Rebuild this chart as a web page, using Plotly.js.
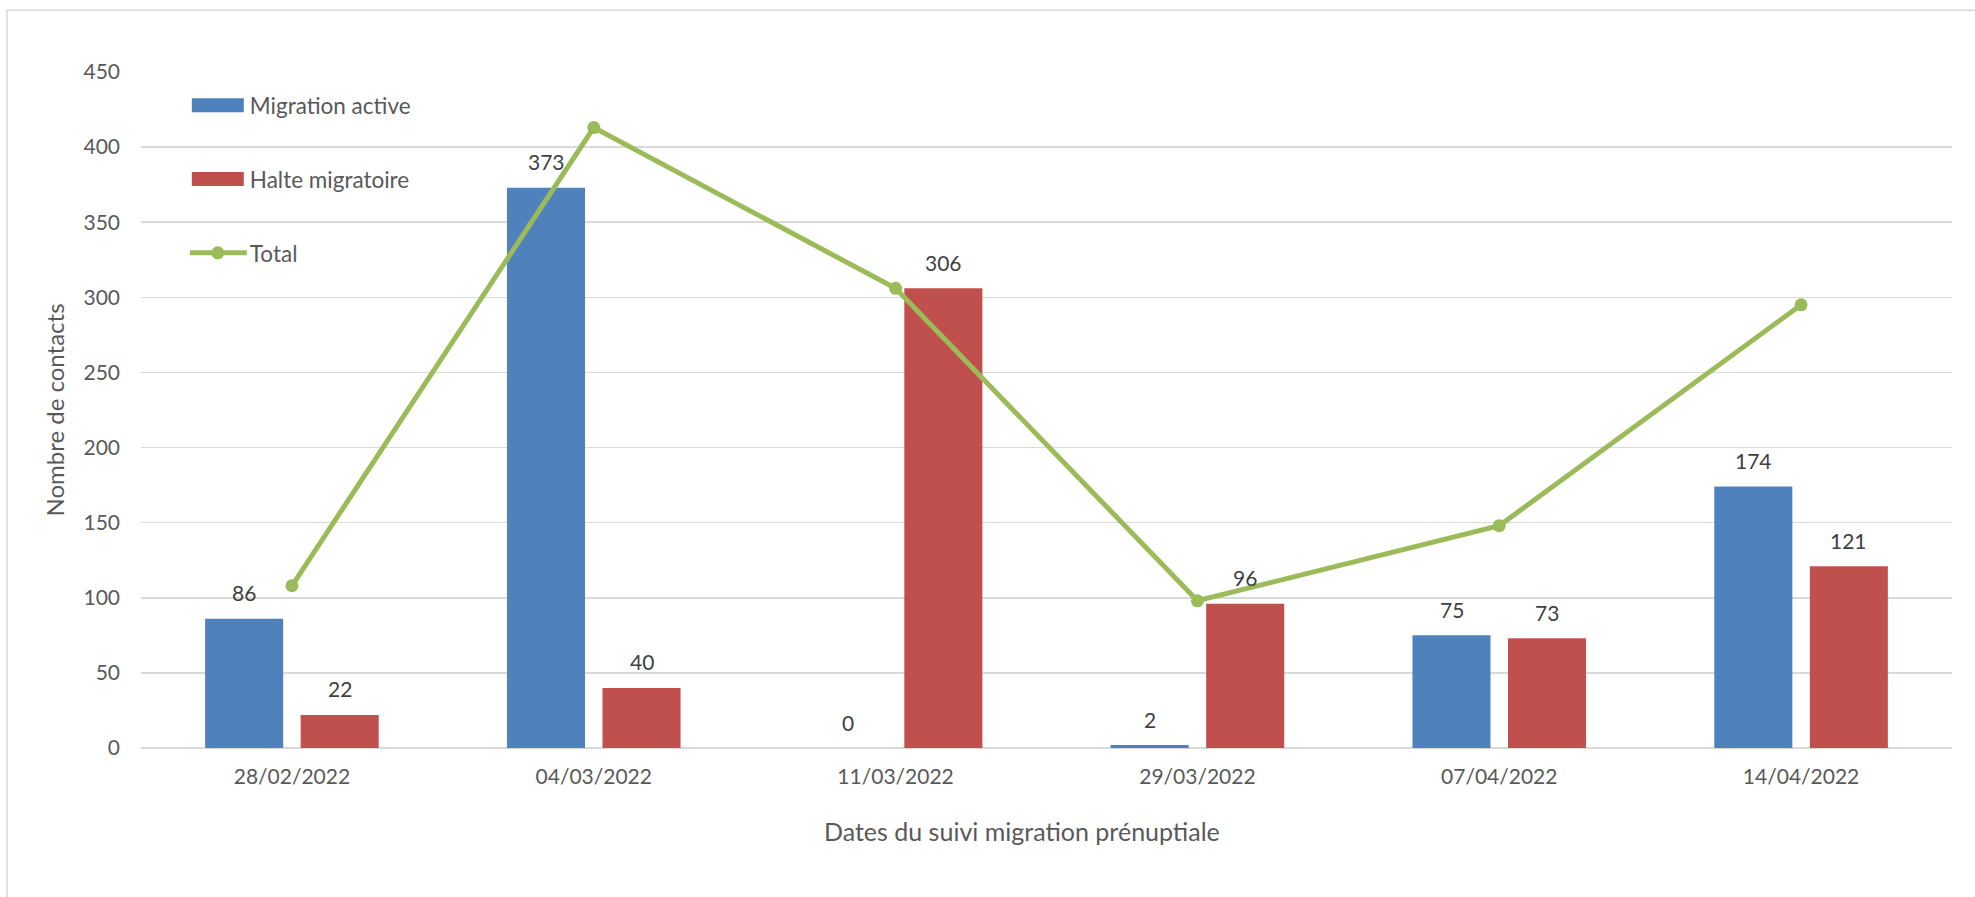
<!DOCTYPE html>
<html>
<head>
<meta charset="utf-8">
<script src="https://cdn.plot.ly/plotly-3.0.1.min.js"></script>
<style>
  html, body { margin: 0; padding: 0; background: #ffffff; }
  #chart { width: 1975px; height: 897px; }
</style>
</head>
<body>
<div id="chart"></div>
<script>
// Dates of the spring (prenuptial) migration counts
const dates = ['28/02/2022', '04/03/2022', '11/03/2022', '29/03/2022', '07/04/2022', '14/04/2022'];
// Contacts per survey date
const migrationActive = [86, 373, 0, 2, 75, 174];
const halteMigratoire = [22, 40, 306, 96, 73, 121];
const total = [108, 413, 306, 98, 148, 295];
// Value axis ticks
const yTickValues = [0, 50, 100, 150, 200, 250, 300, 350, 400, 450];

const FONT = 'Lato, "Open Sans", sans-serif';
const BLUE = '#4F81BD';
const RED = '#C0504D';
const GREEN = '#9BBB59';
const GRID = '#D9D9D9';
const TEXT = '#595959';

const traces = [
  {
    type: 'bar', name: 'Migration active', x: dates, y: migrationActive,
    marker: { color: BLUE }, legendgroup: 'a'
  },
  {
    type: 'bar', name: 'Halte migratoire', x: dates, y: halteMigratoire,
    marker: { color: RED }, legendgroup: 'b'
  },
  {
    type: 'scatter', mode: 'lines+markers', name: 'Total', x: dates, y: total,
    line: { color: GREEN, width: 5 },
    marker: { color: GREEN, size: 13 },
    legendgroup: 'c', cliponaxis: false
  }
];

// Value labels above each bar
const BAR_OFFSET = 47.75;
const labelFont = { family: FONT, size: 21, color: '#404040' };
const annotations = [];
dates.forEach((d, i) => {
  annotations.push({ x: d, y: migrationActive[i], xref: 'x', yref: 'y', text: String(migrationActive[i]),
    showarrow: false, xshift: -BAR_OFFSET, yshift: 26, font: labelFont });
  annotations.push({ x: d, y: halteMigratoire[i], xref: 'x', yref: 'y', text: String(halteMigratoire[i]),
    showarrow: false, xshift: BAR_OFFSET, yshift: 26, font: labelFont });
});
// Category axis title
annotations.push({
  x: 0.4865, y: 0, xref: 'paper', yref: 'paper', xanchor: 'center', yanchor: 'middle', yshift: -82.5,
  text: 'Dates du suivi migration prénuptiale', showarrow: false,
  font: { family: FONT, size: 25, color: TEXT }
});

const layout = {
  width: 1975, height: 897,
  margin: { l: 141, r: 23, t: 72, b: 148.5 },
  paper_bgcolor: '#ffffff', plot_bgcolor: '#ffffff',
  font: { family: FONT, size: 21, color: TEXT },
  barmode: 'group', bargap: 0.367, bargroupgap: 0.183,
  showlegend: true,
  legend: {
    x: 0.038, y: 0.982, xanchor: 'left', yanchor: 'top',
    bgcolor: 'rgba(0,0,0,0)', borderwidth: 0,
    traceorder: 'grouped', tracegroupgap: 41.5,
    font: { family: FONT, size: 22.5, color: TEXT }
  },
  xaxis: {
    type: 'category', tickvals: dates, ticktext: dates,
    showgrid: false, zeroline: false, showline: false, ticks: '',
    ticklabelstandoff: 14, automargin: false,
    tickfont: { family: FONT, size: 21, color: TEXT }
  },
  yaxis: {
    range: [0, 450], tickvals: yTickValues, ticks: '',
    showgrid: true, gridcolor: GRID, gridwidth: 1.5,
    zeroline: true, zerolinecolor: GRID, zerolinewidth: 1.5,
    showline: false, ticklabelstandoff: 20, automargin: false,
    tickfont: { family: FONT, size: 21, color: TEXT },
    title: { text: 'Nombre de contacts', standoff: 12, font: { family: FONT, size: 24, color: TEXT } }
  },
  annotations: annotations,
  shapes: [
    // Chart area frame
    { type: 'rect', xref: 'paper', yref: 'paper', x0: -0.074, x1: 1.2, y0: -0.4, y1: 1.0912,
      line: { color: GRID, width: 1.5 }, fillcolor: 'rgba(0,0,0,0)', layer: 'below' }
  ]
};

// Transform of an element's coordinate frame relative to an ancestor group
function frameOf(el, ancestor) {
  return ancestor.getCTM().inverse().multiply(el.getCTM());
}

// Wider legend keys: long rectangles for the bars, a longer line for the total
function widenLegendKeys(gd) {
  // let the keys extend past the legend box edge
  gd.querySelectorAll('.legend [clip-path]').forEach(el => el.removeAttribute('clip-path'));

  gd.querySelectorAll('.legend .traces').forEach(tr => {
    const txt = tr.querySelector('text.legendtext');
    if (!txt) return;
    const tm = frameOf(txt, tr);
    const textX = tm.e + txt.getBBox().x;

    const lines = tr.querySelectorAll('.legendlines path');
    if (lines.length) {
      lines.forEach(p => {
        const m = frameOf(p, tr);
        const bb = p.getBBox();
        const cy = m.f + bb.y + bb.height / 2;
        p.setAttribute('d', `M${textX - 60 - m.e},${cy - m.f}H${textX - 3 - m.e}`);
      });
      tr.querySelectorAll('.legendsymbols path').forEach(p => {
        const pm = frameOf(p.parentNode, tr);
        const m = frameOf(p, tr);
        p.setAttribute('transform', `translate(${textX - 32 - pm.e},${m.f - pm.f})`);
      });
    } else {
      tr.querySelectorAll('.legendpoints path').forEach(p => {
        const m = frameOf(p, tr);
        const bb = p.getBBox();
        if (!bb.width) return;
        const cy = m.f + bb.y + bb.height / 2;
        const x0 = textX - 58 - m.e, x1 = textX - 6 - m.e, yc = cy - m.f;
        p.setAttribute('d', `M${x0},${yc - 7}H${x1}V${yc + 7}H${x0}Z`);
      });
    }
  });
}

Plotly.newPlot('chart', traces, layout, { displayModeBar: false, staticPlot: true })
  .then(gd => widenLegendKeys(gd));
</script>
</body>
</html>
